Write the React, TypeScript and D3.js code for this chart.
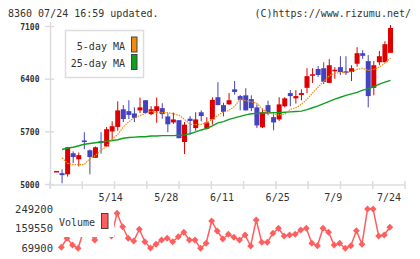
import React from 'react';
import * as d3 from 'd3';

// daily bars, 4/26 .. 7/24
const opens = [5170, 5150, 5135, 5415, 5335, 5585, 5455, 5355, 5575, 5505, 5705, 5765, 6000, 5975, 5945, 5985, 6120, 5935, 5975, 6015, 5905, 5825, 5855, 5565, 5875, 5750, 5960, 5740, 5865, 6160, 6055, 6065, 6265, 6175, 6185, 6135, 6025, 5760, 6055, 5895, 5865, 6040, 6215, 6145, 6190, 6285, 6445, 6535, 6545, 6350, 6510, 6560, 6505, 6495, 6605, 6745, 6640, 6285, 6625, 6625, 6750];
const highs = [5180, 5200, 5500, 5440, 5425, 5695, 5465, 5505, 5695, 5765, 5840, 6105, 6055, 6120, 6025, 6155, 6120, 6040, 6155, 6080, 5945, 5955, 5855, 5830, 5910, 5960, 5985, 5895, 6160, 6360, 6085, 6215, 6375, 6190, 6280, 6185, 6065, 6010, 6115, 5955, 6160, 6160, 6255, 6255, 6265, 6545, 6545, 6575, 6625, 6665, 6560, 6705, 6705, 6585, 6825, 6785, 6720, 6640, 6775, 6905, 7120];
const lows = [5170, 5015, 5105, 5285, 5240, 5470, 5135, 5355, 5410, 5505, 5585, 5715, 5830, 5870, 5830, 5950, 5950, 5920, 5820, 5875, 5695, 5805, 5615, 5405, 5665, 5715, 5840, 5730, 5795, 6055, 5905, 6060, 6195, 5985, 5985, 5975, 5750, 5750, 5920, 5720, 5845, 6025, 6040, 6075, 6120, 6215, 6350, 6430, 6335, 6350, 6405, 6455, 6455, 6375, 6565, 6670, 6025, 6185, 6585, 6625, 6750];
const closes = [5180, 5125, 5495, 5365, 5390, 5565, 5365, 5495, 5550, 5735, 5775, 5985, 5870, 5925, 5885, 6025, 5950, 6000, 6040, 5935, 5800, 5865, 5615, 5795, 5845, 5865, 5910, 5825, 6125, 6055, 5965, 6120, 6230, 6125, 5985, 6015, 5785, 5960, 5950, 5825, 6065, 6145, 6175, 6175, 6215, 6440, 6465, 6455, 6365, 6585, 6525, 6495, 6480, 6545, 6745, 6710, 6175, 6585, 6705, 6865, 7080];

const ma5 = [null, 5355, 5280, 5265, 5265, 5265, 5345, 5385, 5460, 5505, 5600, 5665, 5765, 5835, 5885, 5915, 5945, 5975, 5955, 5955, 5955, 5940, 5920, 5865, 5800, 5795, 5800, 5820, 5865, 5920, 5965, 5985, 6040, 6135, 6115, 6100, 6080, 6000, 5955, 5935, 5925, 5935, 6000, 6020, 6065, 6135, 6215, 6295, 6370, 6445, 6480, 6485, 6490, 6500, 6530, 6545, 6515, 6530, 6560, 6615, 6680];
const ma25 = [null, 5465, 5485, 5495, 5515, 5535, 5545, 5555, 5565, 5575, 5585, 5595, 5615, 5625, 5630, 5635, 5635, 5645, 5645, 5650, 5650, 5650, 5655, 5660, 5675, 5700, 5725, 5745, 5780, 5820, 5835, 5865, 5885, 5905, 5925, 5940, 5945, 5950, 5950, 5955, 5955, 5960, 5965, 5970, 5975, 5995, 6020, 6045, 6075, 6105, 6135, 6160, 6185, 6205, 6225, 6255, 6270, 6300, 6335, 6360, 6385];

const volumes = [null, 74460, 115520, 84950, 69900, 150000, 144260, 107760, 153380, 162470, 126010, 229570, 168440, 115520, 103200, 156580, 100010, 71270, 88150, 107760, 115520, 100010, 122820, 142890, 107760, 107760, 69900, 92710, 194440, 148820, 112330, 133770, 120080, 107760, 130570, 80390, 199000, 97270, 97270, 138330, 161140, 126010, 130570, 133770, 153380, 161140, 92710, 81760, 161140, 142890, 84950, 92710, 69900, 81760, 150190, 88150, 249200, 249200, 126010, 130570, 165700];

const dateLabels = ['5/14', '5/28', '6/11', '6/25', '7/9', '7/24'];
const dateIndex = [10, 20, 30, 40, 50, 60];
const priceTicks = [5000, 5700, 6400, 7100];
const volTicks = [69900, 159550, 249200];

const RED = '#dd0000';
const BLUE = '#4343c0';
const ORANGE = '#f08a10';
const GREEN = '#10a020';
const VOL = '#ff5e5e';
const AXIS = '#dcdcdc';
const TEXT = '#333';
const MONO = '"DejaVu Sans Mono", monospace';

export default function App() {
  const n = opens.length;
  const x = d3.scaleLinear().domain([0, n - 1]).range([56.5, 390.5]);
  const y = d3.scaleLinear().domain([5000, 7100]).range([184.5, 26.5]);
  const yv = d3.scaleLinear().domain([69900, 249200]).range([248.3, 209]);

  const maLine = d3
    .line<number | null>()
    .defined((d) => d != null)
    .x((_, i) => x(i))
    .y((d) => y(d as number));

  const volLine = d3
    .line<number | null>()
    .defined((d) => d != null)
    .x((_, i) => x(i) - 0.7)
    .y((d) => yv(d as number));

  // weekly grid ticks along the bottom axis
  const gridX = d3.range(12).map((k) => 50 + (k * 355) / 11);

  return (
    <svg width={420} height={259} style={{ position: 'absolute', left: 0, top: 0, background: '#fff' }}>
      <text x={8} y={16.5} fontFamily={MONO} fontSize={10} fill={TEXT}>8360 07/24 16:59 updated.</text>
      <text x={411} y={16.5} fontFamily={MONO} fontSize={10} fill={TEXT} textAnchor="end">(C)https://www.rizumu.net/</text>

      {/* axes */}
      <line x1={50.5} x2={50.5} y1={22} y2={189} stroke={AXIS} strokeWidth={1.5} />
      <line x1={50} x2={405} y1={185} y2={185} stroke={AXIS} strokeWidth={1.5} />
      {gridX.map((gx, k) => (
        <line key={k} x1={gx} x2={gx} y1={181} y2={189} stroke={AXIS} strokeWidth={1.5} />
      ))}
      {priceTicks.map((t) => (
        <g key={t}>
          <line x1={45} x2={54} y1={y(t)} y2={y(t)} stroke={AXIS} strokeWidth={1.5} />
          <text x={39.5} y={y(t) + 3} fontFamily={MONO} fontSize={8} fontWeight="bold" fill={TEXT} textAnchor="end">{t}</text>
        </g>
      ))}
      {dateLabels.map((lab, k) => (
        <text key={lab} x={x(dateIndex[k]) - 1.5} y={201} fontFamily={MONO} fontSize={10} fill={TEXT} textAnchor="middle">{lab}</text>
      ))}

      {/* candles */}
      {opens.map((o, i) => {
        const c = closes[i];
        const col = c >= o ? RED : BLUE;
        const top = y(Math.max(o, c));
        const bot = y(Math.min(o, c));
        return (
          <g key={i}>
            <line x1={x(i)} x2={x(i)} y1={y(highs[i])} y2={y(lows[i])} stroke={col} strokeWidth={1} />
            <rect x={x(i) - 2.5} y={top} width={5} height={Math.max(bot - top, 1.5)} fill={col} />
          </g>
        );
      })}

      <path d={maLine(ma25) || ''} fill="none" stroke={GREEN} strokeWidth={1.4} />
      <path d={maLine(ma5) || ''} fill="none" stroke={ORANGE} strokeWidth={1.2} strokeDasharray="1.5 1" />

      {/* price legend */}
      <rect x={65.5} y={30.5} width={78} height={47} fill="#fff" stroke={AXIS} strokeWidth={1.5} />
      <text x={125} y={50} fontFamily={MONO} fontSize={10} fill={TEXT} textAnchor="end">5-day MA</text>
      <text x={125} y={67} fontFamily={MONO} fontSize={10} fill={TEXT} textAnchor="end">25-day MA</text>
      <rect x={131.5} y={37} width={5.5} height={15} fill={ORANGE} stroke="#444" strokeWidth={1} />
      <rect x={131.5} y={54.5} width={5.5} height={15} fill={GREEN} stroke="#444" strokeWidth={1} />

      {/* volume */}
      <path d={volLine(volumes) || ''} fill="none" stroke={VOL} strokeWidth={1.5} />
      {volumes.map((v, i) =>
        v == null ? null : (
          <path
            key={i}
            d={d3.symbol(d3.symbolDiamond2, 30)() || ''}
            transform={`translate(${x(i) - 0.7},${yv(v)})`}
            fill={VOL}
          />
        )
      )}
      {volTicks.map((t) => (
        <text key={t} x={53} y={yv(t) + 3.5} fontFamily={MONO} fontSize={10.5} fill={TEXT} textAnchor="end">{t}</text>
      ))}
      <rect x={56} y={206} width={58} height={31} fill="#fff" />
      <text x={59} y={226} fontFamily={MONO} fontSize={10} fill={TEXT}>Volume</text>
      <rect x={101.5} y={213.5} width={6.5} height={15} fill={VOL} stroke="#444" strokeWidth={1} />
    </svg>
  );
}
